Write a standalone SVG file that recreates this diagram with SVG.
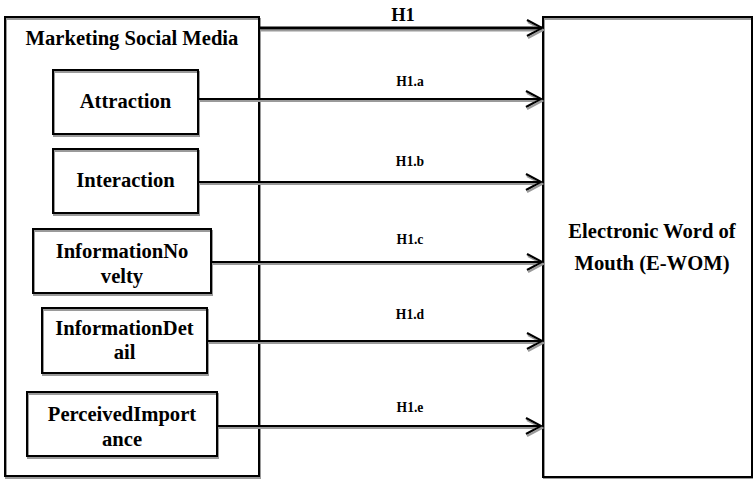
<svg xmlns="http://www.w3.org/2000/svg" width="753" height="479" viewBox="0 0 753 479">
  <defs>
    <filter id="shade" x="-5%" y="-5%" width="110%" height="110%">
      <feDropShadow dx="1" dy="2" stdDeviation="0.4" flood-color="#9a9a9a" flood-opacity="1"/>
    </filter>
    <marker id="chevron" markerUnits="userSpaceOnUse" markerWidth="20" markerHeight="20" refX="16" refY="9" orient="auto" overflow="visible">
      <path d="M1,1 L16,9 L1,17" fill="none" stroke="#000" stroke-width="2.2"/>
    </marker>
  </defs>
  <style>
    .box { fill: none; stroke: #000; stroke-width: 2; }
    .lbl { font-family: "Liberation Serif", "Times New Roman", serif; font-weight: bold; font-size: 20.6px; fill: #000; text-anchor: middle; }
    .hyp { font-family: "Liberation Serif", "Times New Roman", serif; font-weight: bold; font-size: 13.6px; fill: #000; text-anchor: middle; }
    .h1 { font-size: 18.5px; }
    .link { stroke: #000; stroke-width: 2; fill: none; marker-end: url(#chevron); }
    .main { stroke-width: 3; }
  </style>
  <rect width="753" height="479" fill="#fff"/>

  <!-- outer construct -->
  <g id="marketing-social-media">
    <rect class="box" x="5" y="17" width="254" height="459" filter="url(#shade)"/>
    <text class="lbl" x="132" y="45">Marketing Social Media</text>
  </g>

  <g id="attraction">
    <rect class="box" x="53" y="70" width="145" height="64" filter="url(#shade)"/>
    <text class="lbl" x="125.5" y="108">Attraction</text>
  </g>

  <g id="interaction">
    <rect class="box" x="53" y="149" width="145" height="64" filter="url(#shade)"/>
    <text class="lbl" x="125.5" y="187">Interaction</text>
  </g>

  <g id="information-novelty">
    <rect class="box" x="33" y="229" width="178" height="64" filter="url(#shade)"/>
    <text class="lbl" x="122" y="258">InformationNo</text>
    <text class="lbl" x="122" y="283">velty</text>
  </g>

  <g id="information-detail">
    <rect class="box" x="42" y="308" width="165" height="65" filter="url(#shade)"/>
    <text class="lbl" x="124.5" y="335">InformationDet</text>
    <text class="lbl" x="124.5" y="359">ail</text>
  </g>

  <g id="perceived-importance">
    <rect class="box" x="27" y="392" width="190" height="64" filter="url(#shade)"/>
    <text class="lbl" x="122" y="421">PerceivedImport</text>
    <text class="lbl" x="122" y="446">ance</text>
  </g>

  <!-- outcome construct -->
  <g id="e-wom">
    <rect class="box" x="543" y="17" width="209" height="460" filter="url(#shade)"/>
    <text class="lbl" x="652" y="238">Electronic Word of</text>
    <text class="lbl" x="652" y="270">Mouth (E-WOM)</text>
  </g>

  <!-- hypothesised paths -->
  <g id="connectors" filter="url(#shade)">
    <line class="link main" x1="259" y1="28" x2="542" y2="28"/>
    <line class="link" x1="198" y1="99" x2="541" y2="99"/>
    <line class="link" x1="198" y1="182" x2="541" y2="182"/>
    <line class="link" x1="211" y1="262" x2="542" y2="262"/>
    <line class="link" x1="207" y1="341" x2="542" y2="341"/>
    <line class="link" x1="217" y1="426" x2="541" y2="426"/>
  </g>

  <g id="connector-labels">
    <text class="hyp h1" x="403" y="21">H1</text>
    <text class="hyp" x="410" y="86">H1.a</text>
    <text class="hyp" x="410" y="166">H1.b</text>
    <text class="hyp" x="410" y="244">H1.c</text>
    <text class="hyp" x="410" y="319">H1.d</text>
    <text class="hyp" x="410" y="412">H1.e</text>
  </g>
</svg>
